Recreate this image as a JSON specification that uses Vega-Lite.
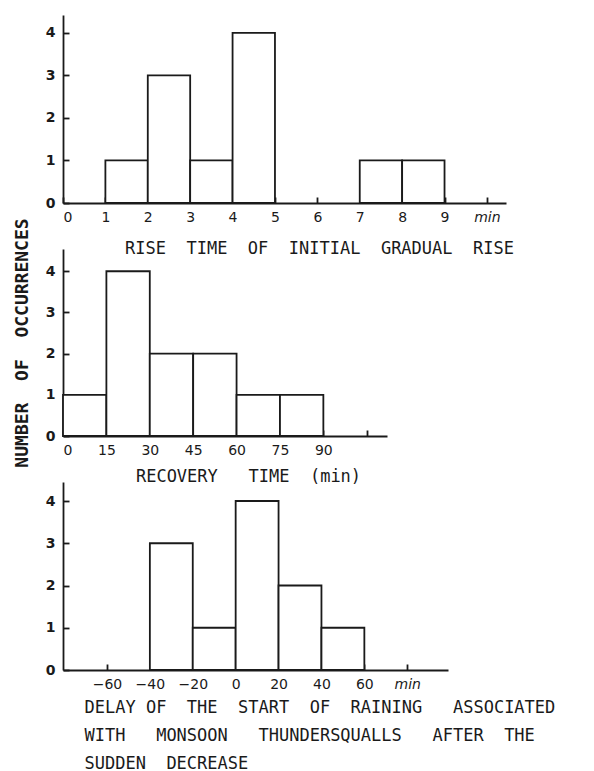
{
  "$schema": "https://vega.github.io/schema/vega-lite/v6.json",
  "background": "white",
  "padding": {"left": 12, "top": 15, "right": 5, "bottom": 5},
  "spacing": 46,
  "bounds": "flush",
  "config": {
    "view": {"stroke": null},
    "axis": {
      "grid": false,
      "domainColor": "#1a1a1a",
      "domainWidth": 1.8,
      "tickColor": "#1a1a1a",
      "tickWidth": 1.8,
      "tickSize": -6,
      "labelPadding": 14,
      "labelFont": "DejaVu Sans",
      "labelFontSize": 14,
      "labelColor": "#1a1a1a",
      "titleFont": "DejaVu Sans Mono",
      "titleFontWeight": "normal",
      "titleFontSize": 17,
      "titleColor": "#1a1a1a"
    }
  },
  "datasets": {
    "rise": [
      {"start": 1, "end": 2, "count": 1},
      {"start": 2, "end": 3, "count": 3},
      {"start": 3, "end": 4, "count": 1},
      {"start": 4, "end": 5, "count": 4},
      {"start": 7, "end": 8, "count": 1},
      {"start": 8, "end": 9, "count": 1}
    ],
    "recovery": [
      {"start": 0, "end": 15, "count": 1},
      {"start": 15, "end": 30, "count": 4},
      {"start": 30, "end": 45, "count": 2},
      {"start": 45, "end": 60, "count": 2},
      {"start": 60, "end": 75, "count": 1},
      {"start": 75, "end": 90, "count": 1}
    ],
    "delay": [
      {"start": -40, "end": -20, "count": 3},
      {"start": -20, "end": 0, "count": 1},
      {"start": 0, "end": 20, "count": 4},
      {"start": 20, "end": 40, "count": 2},
      {"start": 40, "end": 60, "count": 1}
    ]
  },
  "vconcat": [
    {
      "width": 443,
      "height": 188,
      "data": {"name": "rise"},
      "mark": {"type": "rect", "fill": "white", "stroke": "#1a1a1a", "strokeWidth": 1.8},
      "encoding": {
        "x": {
          "field": "start",
          "type": "quantitative",
          "scale": {"domain": [0, 10.45], "nice": false, "zero": false},
          "axis": {
            "values": [0, 1, 2, 3, 4, 5, 6, 7, 8, 9, 10],
            "labelExpr": "datum.value == 10 ? 'min' : datum.label",
            "labelFontStyle": {"condition": {"test": "datum.value == 10", "value": "italic"}, "value": "normal"},
            "labelPadding": 13,
            "title": "RISE\u00a0\u00a0TIME\u00a0\u00a0OF\u00a0\u00a0INITIAL\u00a0\u00a0GRADUAL\u00a0\u00a0RISE",
            "titleX": 256,
            "titleY": 45,
            "titleAlign": "center",
            "titleBaseline": "middle"
          }
        },
        "x2": {"field": "end"},
        "y": {
          "field": "count",
          "type": "quantitative",
          "scale": {"domain": [0, 4.42], "nice": false},
          "axis": {"values": [0, 1, 2, 3, 4], "title": null, "labelFontWeight": "bold"}
        },
        "y2": {"datum": 0}
      }
    },
    {
      "width": 324,
      "height": 187,
      "data": {"name": "recovery"},
      "mark": {"type": "rect", "fill": "white", "stroke": "#1a1a1a", "strokeWidth": 1.8},
      "encoding": {
        "x": {
          "field": "start",
          "type": "quantitative",
          "scale": {"domain": [0, 112], "nice": false, "zero": false},
          "axis": {
            "values": [0, 15, 30, 45, 60, 75, 90, 105],
            "labelExpr": "datum.value == 105 ? '' : datum.label",
            "labelPadding": 13,
            "title": "RECOVERY\u00a0\u00a0\u00a0TIME\u00a0\u00a0(min)",
            "titleX": 185,
            "titleY": 40,
            "titleAlign": "center",
            "titleBaseline": "middle"
          }
        },
        "x2": {"field": "end"},
        "y": {
          "field": "count",
          "type": "quantitative",
          "scale": {"domain": [0, 4.54], "nice": false},
          "axis": {
            "values": [0, 1, 2, 3, 4],
            "labelFontWeight": "bold",
            "title": "NUMBER\u00a0\u00a0OF\u00a0\u00a0OCCURRENCES",
            "titleFontWeight": "bold",
            "titleFontSize": 18,
            "titleAngle": -90,
            "titleX": -41,
            "titleAlign": "center",
            "titleBaseline": "middle"
          }
        },
        "y2": {"datum": 0}
      }
    },
    {
      "width": 385,
      "height": 188,
      "data": {"name": "delay"},
      "mark": {"type": "rect", "fill": "white", "stroke": "#1a1a1a", "strokeWidth": 1.8},
      "encoding": {
        "x": {
          "field": "start",
          "type": "quantitative",
          "scale": {"domain": [-80.5, 99], "nice": false, "zero": false},
          "axis": {
            "values": [-60, -40, -20, 0, 20, 40, 60, 80],
            "labelExpr": "datum.value == 80 ? 'min' : datum.label",
            "labelFontStyle": {"condition": {"test": "datum.value == 80", "value": "italic"}, "value": "normal"},
            "labelPadding": 13,
            "title": ["DELAY\u00a0OF\u00a0\u00a0THE\u00a0\u00a0START\u00a0\u00a0OF\u00a0\u00a0RAINING\u00a0\u00a0\u00a0ASSOCIATED", "WITH\u00a0\u00a0\u00a0MONSOON\u00a0\u00a0\u00a0THUNDERSQUALLS\u00a0\u00a0\u00a0AFTER\u00a0\u00a0THE", "SUDDEN\u00a0\u00a0DECREASE"],
            "titleX": 21,
            "titleY": 29,
            "titleAlign": "left",
            "titleAnchor": "start",
            "titleBaseline": "top",
            "titleLineHeight": 28
          }
        },
        "x2": {"field": "end"},
        "y": {
          "field": "count",
          "type": "quantitative",
          "scale": {"domain": [0, 4.45], "nice": false},
          "axis": {"values": [0, 1, 2, 3, 4], "title": null, "labelFontWeight": "bold"}
        },
        "y2": {"datum": 0}
      }
    }
  ]
}
